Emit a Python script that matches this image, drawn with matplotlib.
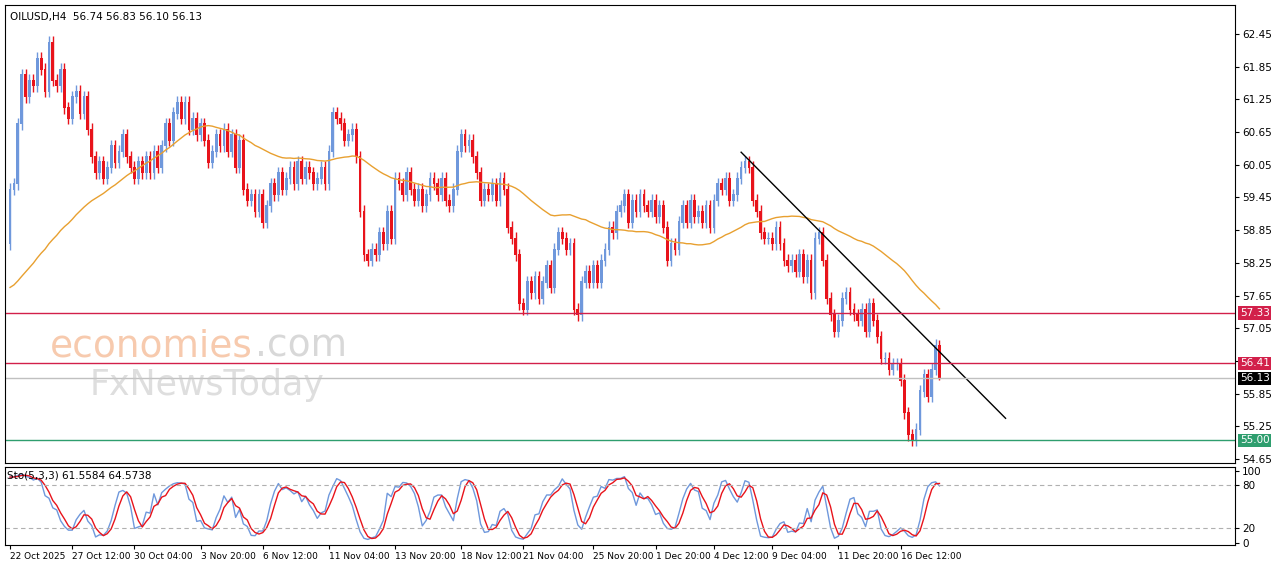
import matplotlib
matplotlib.use("Agg")
import matplotlib.pyplot as plt
import numpy as np
import pandas as pd

# closes before the visible window (only used for the moving average)
pre_closes = [57.2, 57.4, 57.1, 57.5, 57.3, 57.6, 57.4, 57.2, 57.5, 57.7,
              57.3, 57.6, 57.8, 57.4, 57.5, 57.9, 57.6, 57.3, 57.5, 57.8,
              57.6, 57.4, 57.7, 57.9, 57.5, 57.3, 57.6, 57.8, 57.5, 57.7,
              57.4, 57.6, 57.9, 57.7, 57.5, 57.8, 58.0, 57.6, 57.8, 58.1,
              57.9, 58.2, 58.0, 58.3, 58.1, 58.4, 58.6, 58.9, 59.2, 59.0]

closes = [59.6, 59.7, 60.8, 61.7, 61.3, 61.6, 61.5, 62.0, 61.8, 61.4,
          62.3, 61.6, 61.5, 61.8, 61.1, 60.9, 61.3, 61.4, 61.0, 61.3,
          60.7, 60.2, 59.9, 60.1, 59.8, 60.0, 60.4, 60.1, 60.3, 60.6,
          60.2, 60.0, 59.8, 60.1, 59.9, 60.2, 59.9, 60.3, 60.0, 60.4,
          60.8, 60.5, 61.0, 61.2, 60.9, 61.2, 60.7, 60.9, 60.6, 60.8,
          60.5, 60.1, 60.3, 60.6, 60.4, 60.7, 60.3, 60.6, 60.0, 60.5,
          59.6, 59.4, 59.5, 59.2, 59.5, 59.0, 59.3, 59.7, 59.5, 59.9,
          59.6, 59.8, 60.0, 59.7, 60.1, 59.8, 60.0, 59.9, 59.7, 59.8,
          60.0, 59.7, 60.3, 61.0, 60.9, 60.8, 60.5, 60.6, 60.7, 60.2,
          59.2, 58.4, 58.3, 58.5, 58.4, 58.8, 58.6, 59.2, 58.7, 59.8,
          59.7, 59.5, 59.9, 59.6, 59.4, 59.6, 59.3, 59.5, 59.8, 59.7,
          59.5, 59.8, 59.4, 59.3, 59.6, 60.3, 60.6, 60.4, 60.5, 60.2,
          59.9, 59.4, 59.6, 59.5, 59.7, 59.4, 59.8, 59.6, 58.9, 58.7,
          58.4, 57.5, 57.4, 57.9, 57.7, 58.0, 57.6, 57.9, 58.2, 57.8,
          58.5, 58.8, 58.7, 58.5, 58.6, 57.4, 57.3, 57.9, 58.1, 57.9,
          58.2, 57.9, 58.3, 58.5, 58.9, 58.8, 59.2, 59.3, 59.5, 59.0,
          59.4, 59.2, 59.5, 59.3, 59.2, 59.4, 59.1, 59.3, 58.9, 58.3,
          58.6, 58.5, 59.0, 59.3, 59.0, 59.4, 59.1, 59.2, 59.0, 59.3,
          58.9, 59.4, 59.7, 59.6, 59.8, 59.4, 59.5, 59.8, 60.0, 60.1,
          60.0, 59.4, 59.2, 58.8, 58.7, 58.7, 58.6, 58.9, 58.6, 58.3,
          58.2, 58.3, 58.1, 58.4, 58.0, 58.3, 57.7, 58.7, 58.8, 58.3,
          57.6, 57.3, 57.0, 57.2, 57.6, 57.7, 57.4, 57.3, 57.2, 57.4,
          57.0, 57.5, 57.2, 56.9, 56.5, 56.5, 56.3, 56.4, 56.4, 56.1,
          55.5, 55.1, 55.0, 55.2, 55.9, 56.2, 55.8, 56.3, 56.74, 56.13]
first_open = 58.6
last_high, last_low = 56.83, 56.10

tick_bars = [0, 16, 32, 49, 65, 82, 99, 116, 132, 150, 166, 181, 196, 213, 229]
tick_labels = ["22 Oct 2025", "27 Oct 12:00", "30 Oct 04:00", "3 Nov 20:00", "6 Nov 12:00",
               "11 Nov 04:00", "13 Nov 20:00", "18 Nov 12:00", "21 Nov 04:00", "25 Nov 20:00",
               "1 Dec 20:00", "4 Dec 12:00", "9 Dec 04:00", "11 Dec 20:00", "16 Dec 12:00"]
price_ticks = [62.45, 61.85, 61.25, 60.65, 60.05, 59.45, 58.85, 58.25, 57.65, 57.05,
               56.45, 55.85, 55.25, 54.65]
levels = [57.33, 56.41, 55.00]
last_price = 56.13
trend_pts = ([188, 256], [60.28, 55.40])
stoch_label = "Sto(5,3,3) 61.5584 64.5738"

c = np.array(closes)
o = np.concatenate([[first_open], c[:-1]])
hi = np.maximum(o, c) + 0.11
lo = np.minimum(o, c) - 0.11
hi[-1], lo[-1] = last_high, last_low
n = len(c)
x = np.arange(n)

blue, red = "#6f98dc", "#e8131b"
fig = plt.figure(figsize=(12.8, 5.67), dpi=100)
W, H = 1280, 567
ax = fig.add_axes([5 / W, 1 - 463 / H, 1230 / W, 458 / H])
ax2 = fig.add_axes([5 / W, 1 - 545 / H, 1230 / W, 78 / H])

up = c >= o
cols = np.where(up, blue, red)
ax.vlines(x, lo, hi, colors=cols, lw=1)
ax.bar(x, np.abs(c - o) + 0.02, bottom=np.minimum(o, c) - 0.01, width=0.7, color=cols)

allc = pd.Series(pre_closes + closes)
ma = allc.rolling(50).mean().values[len(pre_closes):]
ax.plot(x, ma, color="#e8a030", lw=1)

ax.plot(*trend_pts, color="black", lw=1)
for lv, col in zip(levels, ["#d2204a", "#d2204a", "#2e9e6e"]):
    ax.axhline(lv, color=col, lw=1)
ax.axhline(last_price, color="#c0c0c0", lw=1)

xmax = 315
ax.set_xlim(-1.3, xmax)
ax.set_ylim(54.58, 62.98)
ax.yaxis.tick_right()
ax.set_yticks(price_ticks)
ax.set_yticklabels([f"{t:.2f}" for t in price_ticks], fontsize=7.5)
ax.tick_params(axis="y", length=3, pad=2)
ax.set_xticks([])
for lv, col in zip(levels + [last_price], ["#d2204a", "#d2204a", "#2e9e6e", "black"]):
    ax.text(1.004, lv, f"{lv:.2f}", transform=ax.get_yaxis_transform(), fontsize=7.5,
            color="white", va="center", ha="left",
            bbox=dict(boxstyle="square,pad=0.15", fc=col, ec="none"))
ax.text(0.004, 0.985, "OILUSD,H4  56.74 56.83 56.10 56.13", transform=ax.transAxes,
        fontsize=7.5, va="top")

# watermark
ax.text(45 / 1230, 0.255, "economies", transform=ax.transAxes, fontsize=27,
        color="#f2a878", alpha=0.6, va="center")
ax.text(250 / 1230, 0.255, ".com", transform=ax.transAxes, fontsize=27,
        color="#c8c8c8", alpha=0.7, va="center")
ax.text(85 / 1230, 0.17, "FxNewsToday", transform=ax.transAxes, fontsize=25,
        color="#c8c8c8", alpha=0.6, va="center")

# stochastic 5,3,3
s_hi = pd.Series(hi).rolling(5, min_periods=1).max()
s_lo = pd.Series(lo).rolling(5, min_periods=1).min()
num = (pd.Series(c) - s_lo).rolling(3, min_periods=1).sum()
den = (s_hi - s_lo).rolling(3, min_periods=1).sum()
k = 100 * num / den
d = k.rolling(3, min_periods=1).mean()
ax2.plot(x, k, color=blue, lw=1)
ax2.plot(x, d, color=red, lw=1)
for lv in (20, 80):
    ax2.axhline(lv, color="#b0b0b0", lw=0.8, ls=(0, (4, 3)))
ax2.set_xlim(-1.3, xmax)
ax2.set_ylim(-3, 105)
ax2.yaxis.tick_right()
ax2.set_yticks([0, 20, 80, 100])
ax2.set_yticklabels(["0", "20", "80", "100"], fontsize=7.5)
ax2.tick_params(axis="y", length=3, pad=2)
ax2.set_xticks(tick_bars)
ax2.set_xticklabels(tick_labels, fontsize=6.5, ha="left")
ax2.tick_params(axis="x", length=3, pad=2)
ax2.text(0.002, 0.96, stoch_label, transform=ax2.transAxes, fontsize=7.5, va="top")

fig.savefig("out.png", dpi=100)
